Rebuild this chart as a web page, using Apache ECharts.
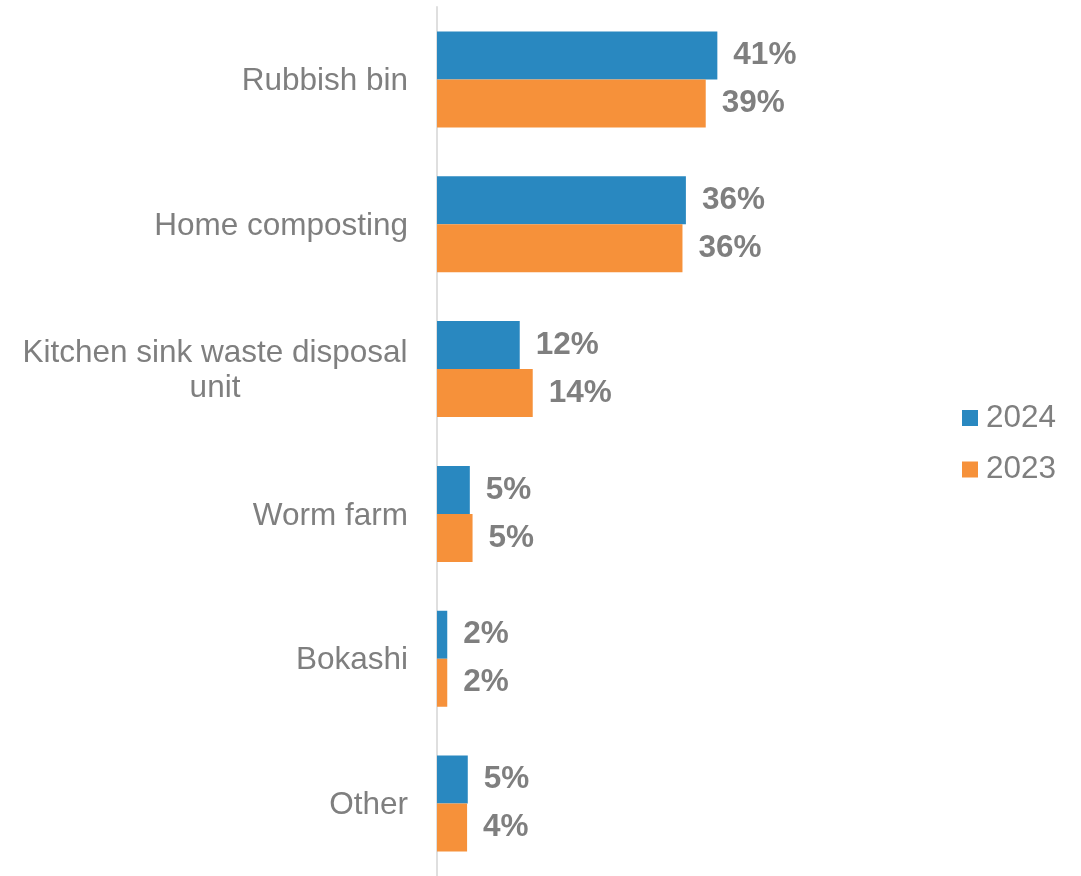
<!DOCTYPE html>
<html>
<head>
<meta charset="utf-8">
<script src="https://cdn.jsdelivr.net/npm/echarts@6/dist/echarts.min.js"></script>
<style>html,body{margin:0;padding:0;background:#fff;}#c{width:1081px;height:876px;}</style>
</head>
<body>
<div id="c"></div>
<script>
const categories = ['Rubbish bin', 'Home composting', 'Kitchen sink waste disposal unit', 'Worm farm', 'Bokashi', 'Other'];
const seriesNames = ['2024', '2023'];
const values2024 = [41, 36.4, 12.1, 4.8, 1.5, 4.5];
const values2023 = [39.3, 35.9, 14.0, 5.2, 1.5, 4.4];

const FONT = '"Liberation Sans", Arial, sans-serif';
const GRAY = '#7f7f7f';
const FS = 31.5;
const chart = echarts.init(document.getElementById('c'));
const labelCfg = {
  show: true, position: 'right', distance: 16,
  color: GRAY, fontFamily: FONT, fontSize: FS, fontWeight: 'bold',
  formatter: p => Math.round(p.value) + '%'
};
chart.setOption({
  animation: false,
  backgroundColor: '#fff',
  grid: { left: 437, top: 7, width: 307.7, height: 872.4, containLabel: false },
  legend: {
    data: seriesNames,
    orient: 'vertical', left: 957, top: 397,
    icon: 'rect', itemWidth: 16, itemHeight: 16, itemGap: 19.5,
    textStyle: { color: GRAY, fontFamily: FONT, fontSize: FS, padding: [0, 0, 0, 3] }
  },
  xAxis: { type: 'value', min: 0, max: 45, show: false },
  yAxis: {
    type: 'category', data: categories, inverse: true,
    axisLine: { show: true, lineStyle: { color: '#dcdcdc', width: 1.8 } },
    axisTick: { show: false },
    axisLabel: {
      margin: 29, color: GRAY, fontFamily: FONT, fontSize: FS, lineHeight: 35,
      padding: [4, 0, 0, 0],
      formatter: v => {
        const words = v.split(' ');
        if (v.length > 25) {
          const l1 = words.slice(0, 4).join(' ');
          const l2 = words.slice(4).join(' ');
          return '{c|' + l1 + '}\n{c|' + l2 + '}';
        }
        return v;
      },
      rich: { c: { width: 386, align: 'center', color: GRAY, fontFamily: FONT, fontSize: FS, lineHeight: 35 } }
    }
  },
  series: [
    { name: seriesNames[0], type: 'bar', data: values2024, barWidth: 48, barGap: '0%',
      itemStyle: { color: '#2988c0' }, label: labelCfg },
    { name: seriesNames[1], type: 'bar', data: values2023, barWidth: 48, barGap: '0%',
      itemStyle: { color: '#f6913a' }, label: labelCfg }
  ]
});
</script>
</body>
</html>
